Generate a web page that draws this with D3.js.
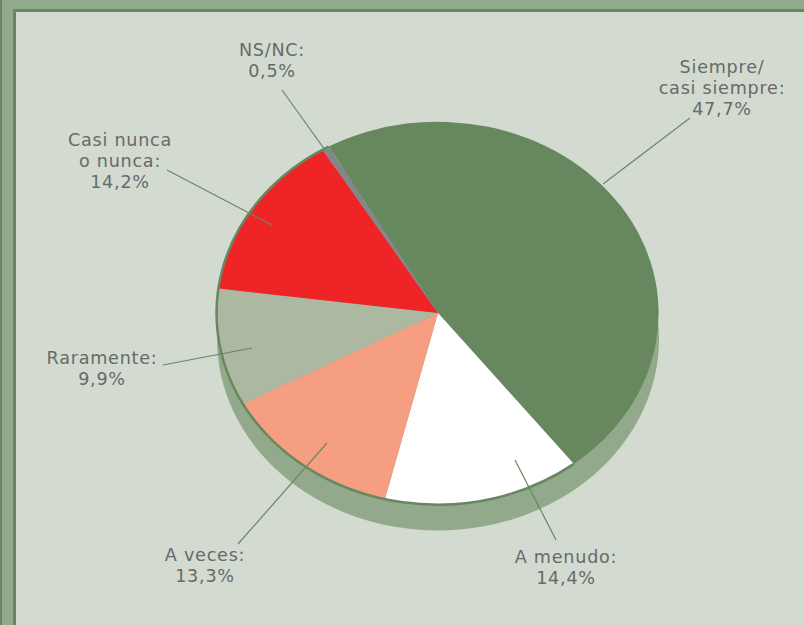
<!DOCTYPE html>
<head>
  <meta charset="utf-8">
  <script src="https://d3js.org/d3.v7.min.js"></script>
  <style>
    body { margin:0; background:#d3dbd0; overflow:hidden; }
    text { font-family:"DejaVu Sans",sans-serif; font-size:17.6px; letter-spacing:0.75px; fill:#666a69; }
  </style>
</head>
<body>
  <svg id="svgelem" width="804" height="625"></svg>
  <script>
    var categories = ["Siempre/casi siempre", "A menudo", "A veces", "Raramente", "Casi nunca o nunca", "NS/NC"];
    var values = [47.7, 14.4, 13.3, 9.9, 14.2, 0.5];
    var sliceColors = ["#67885f", "#ffffff", "#f59e82", "#acb8a1", "#ee2426", "#83878a"];
    var labelLines = [
      ["Siempre/", "casi siempre:", "47,7%"],
      ["A menudo:", "14,4%"],
      ["A veces:", "13,3%"],
      ["Raramente:", "9,9%"],
      ["Casi nunca", "o nunca:", "14,2%"],
      ["NS/NC:", "0,5%"]
    ];

    var width = 804, height = 625;
    var cx = 438, cy = 313, rx = 221, ry = 191.5, depth = 26;
    var startAngle = -29.7 * Math.PI / 180;

    // where each label sits and where its leader line runs
    var labelPos = [[722, 73], [566, 563], [205, 561], [102, 364], [120, 146], [272, 56]];
    var leaders = [
      [[690, 118], [603, 184]],
      [[556, 540], [515, 460]],
      [[238, 544], [327, 443]],
      [[163, 365], [252, 348]],
      [[167, 170], [272, 225]],
      [[282, 90], [325, 150]]
    ];

    var svg = d3.select("#svgelem");

    // frame
    svg.append("rect").attr("width", width).attr("height", height).attr("fill", "#93a98b");
    svg.append("rect").attr("width", 2).attr("height", height).attr("fill", "#67885f");
    svg.append("rect").attr("x", 13).attr("y", 9).attr("width", width).attr("height", height).attr("fill", "#67885f");
    svg.append("rect").attr("x", 16).attr("y", 12).attr("width", width).attr("height", height).attr("fill", "#d3dbd0");

    var x = d3.scaleLinear().domain([-1, 1]).range([cx - rx, cx + rx]);
    var y = d3.scaleLinear().domain([-1, 1]).range([cy - ry, cy + ry]);

    var pie = d3.pie().sort(null).startAngle(startAngle).endAngle(startAngle + 2 * Math.PI);
    var arcs = pie(values);
    var arc = d3.arc().innerRadius(0).outerRadius(1);

    // side of the disc
    svg.append("ellipse")
      .attr("cx", cx).attr("cy", cy + depth).attr("rx", rx).attr("ry", ry)
      .attr("fill", "#93a98b");

    var pieG = svg.append("g")
      .attr("transform", "translate(" + x(0) + "," + y(0) + ") scale(" + (x(1) - x(0)) + "," + (y(1) - y(0)) + ")");

    pieG.selectAll("path.slice").data(arcs).enter().append("path")
      .attr("class", "slice")
      .attr("d", arc)
      .attr("fill", function(d, i) { return sliceColors[i]; });

    // dark rim along the front edge, white slice through to grey slice
    var rim = d3.arc().innerRadius(1).outerRadius(1)
      .startAngle(arcs[1].startAngle).endAngle(arcs[5].endAngle);
    pieG.append("path")
      .attr("d", rim())
      .attr("fill", "none")
      .attr("stroke", "#67885f")
      .attr("stroke-width", 2.5)
      .attr("vector-effect", "non-scaling-stroke");

    // leader lines
    svg.selectAll("line.leader").data(leaders).enter().append("line")
      .attr("class", "leader")
      .attr("x1", function(d) { return d[0][0]; })
      .attr("y1", function(d) { return d[0][1]; })
      .attr("x2", function(d) { return d[1][0]; })
      .attr("y2", function(d) { return d[1][1]; })
      .attr("stroke", "#67885f")
      .attr("stroke-width", 1.2);

    // labels
    labelLines.forEach(function(lines, i) {
      var t = svg.append("text").attr("text-anchor", "middle");
      lines.forEach(function(s, j) {
        t.append("tspan")
          .attr("x", labelPos[i][0])
          .attr("y", labelPos[i][1] + j * 21)
          .text(s);
      });
    });
  </script>
</body>
